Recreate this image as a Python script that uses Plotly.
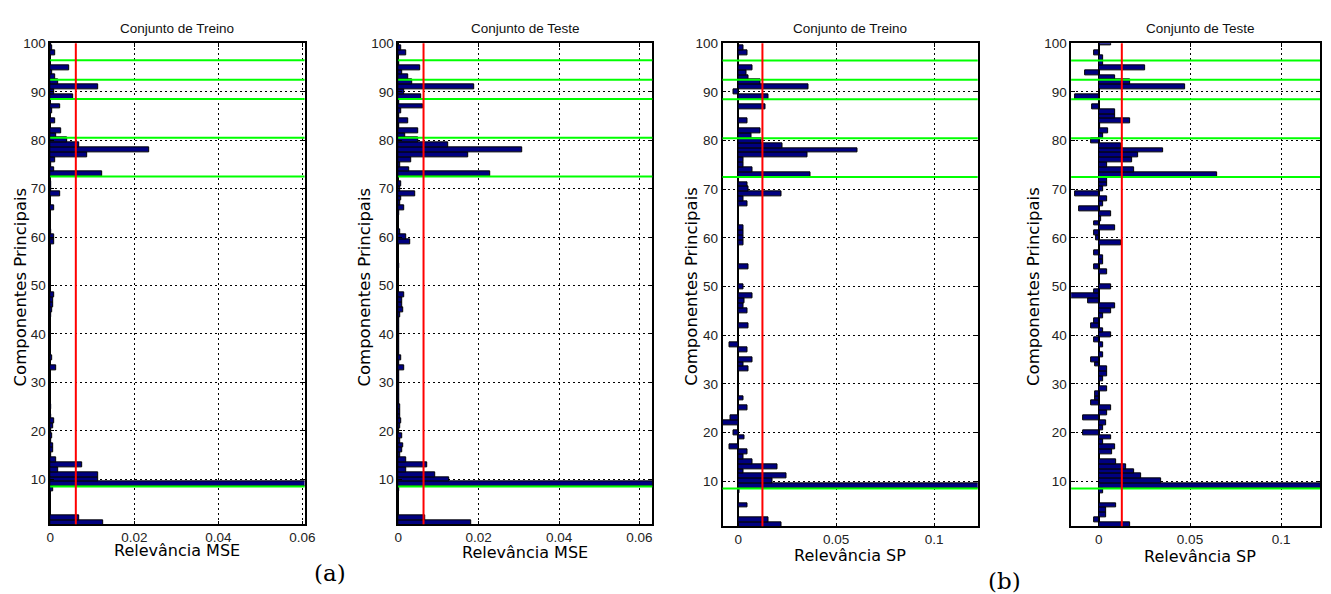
import plotly.graph_objects as go

# ---------------- data ----------------
components = list(range(1, 101))

# Relevance per principal component (index 1..100)
mse_treino = [
    0.0125, 0.0069, 0, 0, 0, 0, 0, 0.0006, 0.14, 0.0113,
    0.0113, 0.0018, 0.0075, 0.0014, 0.0003, 0.0008, 0.0008, 0.0002, 0.0005, 0.0002,
    0.0006, 0.0009, 0.0002, 0.0001, 0.0002, 0, 0, 0, 0, 0,
    0, 0, 0.0014, 0, 0.0005, 0, 0, 0, 0, 0,
    0, 0, 0, 0.0002, 0.0004, 0.0006, 0.0006, 0.0009, 0, 0,
    0, 0, 0, 0, 0, 0, 0, 0, 0.0010, 0.0009,
    0.0003, 0, 0, 0, 0, 0.0009, 0, 0, 0.0024, 0.0003,
    0.0003, 0, 0.0123, 0.0009, 0.0003, 0.0011, 0.0089, 0.0235, 0.0068, 0.0040,
    0.0015, 0.0027, 0, 0.0012, 0, 0.0004, 0.0024, 0, 0.0054, 0.0009,
    0.0115, 0.0018, 0.0013, 0.0004, 0.0044, 0, 0, 0.0013, 0.0004, 0.0003,
]

mse_teste = [
    0.0181, 0.0068, 0, 0, 0, 0, 0, 0.0003, 0.14, 0.0127,
    0.0091, 0.0021, 0.0072, 0.0020, 0.0006, 0.0010, 0.0013, 0.0004, 0.0010, 0.0003,
    0.0005, 0.0008, 0.0006, 0.0004, 0.0005, 0.0002, 0.0002, 0.0002, 0.0002, 0.0002,
    0.0002, 0.0002, 0.0015, 0.0003, 0.0007, 0.0002, 0.0002, 0.0002, 0.0002, 0.0002,
    0.0003, 0.0003, 0.0003, 0.0004, 0.0013, 0.0010, 0.0009, 0.0014, 0, 0,
    0, 0, 0, 0.0003, 0, 0, 0, 0, 0.0031, 0.0021,
    0.0005, 0, 0, 0, 0.0003, 0.0015, 0.0005, 0.0008, 0.0042, 0.0006,
    0.0008, 0, 0.0229, 0.0027, 0.0005, 0.0033, 0.0175, 0.0309, 0.0124, 0.0050,
    0.0017, 0.0050, 0.0003, 0.0025, 0.0003, 0.0007, 0.0061, 0.0002, 0.0058, 0.0016,
    0.0188, 0.0035, 0.0025, 0.0009, 0.0054, 0.0003, 0, 0.0020, 0.0008, 0,
]

sp_treino = [
    0.0219, 0.0155, 0, 0, 0.0045, 0, 0, 0.0007, 0.14, 0.0175,
    0.0244, 0.0025, 0.0202, 0.0071, 0.0025, 0.0045, -0.0044, 0, 0.0029, -0.0024,
    0, -0.0090, -0.0042, 0, 0.0045, 0, 0.0025, 0, 0, 0,
    0, 0, 0.0050, 0.0025, 0.0071, 0, 0.0045, -0.0044, 0, 0,
    0, 0.0050, 0, 0, 0.0045, 0.0025, 0.0029, 0.0071, 0, 0.0025,
    0, 0, 0, 0.0050, 0, 0, 0, 0, 0.0025, 0.0025,
    0.0025, 0.0025, 0, 0, 0, 0, 0.0045, 0.0025, 0.0222, 0.0050,
    0.0045, 0, 0.0369, 0.0071, 0.0025, 0.0025, 0.0354, 0.0610, 0.0226, 0.0118,
    0.0067, 0.0113, 0, 0.0049, 0, 0, 0.0138, 0, 0.0155, -0.0024,
    0.0357, 0.0113, 0.0050, 0.0042, 0.0071, 0, 0, 0.0045, 0.0025, 0,
]

sp_teste = [
    0.0170, -0.0025, 0.0042, 0.0042, 0.0094, 0, 0, 0.0023, 0.14, 0.0341,
    0.0233, 0.0191, 0.0152, 0.0097, 0, 0.0074, 0.0088, 0.0023, 0.0069, -0.0085,
    0.0023, 0.0042, -0.0088, 0.0045, 0.0065, -0.0043, -0.0023, -0.0018, 0.0047, 0,
    0.0023, 0.0043, 0.0047, -0.0022, -0.0043, 0.0023, 0, 0.0023, -0.0025, 0.0065,
    0.0023, -0.0045, -0.0025, 0.0023, 0.0065, 0.0088, -0.0061, -0.0155, -0.0025, 0.0065,
    0, 0, 0.0043, -0.0025, 0.0023, 0.0023, -0.0025, 0, 0.0121, -0.0014,
    -0.0025, 0.0088, -0.0025, 0.0010, 0.0065, -0.0106, 0.0023, 0.0043, -0.0130, 0.0023,
    0.0047, 0.0043, 0.0648, 0.0191, 0.0045, 0.0182, 0.0217, 0.0350, 0.0123, -0.0043,
    0.0023, 0.0051, 0.0005, 0.0173, 0.0087, 0.0087, -0.0038, 0, -0.0130, 0.0003,
    0.0471, 0.0170, 0.0087, -0.0076, 0.0255, 0.0023, 0.0023, -0.0025, 0, 0.0065,
]

thresholds = [0.0061, 0.0063, 0.0123, 0.0126]
cut_lines = [8.5, 72.5, 80.5, 88.5, 92.5, 96.5]

titles = ["Conjunto de Treino", "Conjunto de Teste", "Conjunto de Treino", "Conjunto de Teste"]
xlabels = ["Relevância MSE", "Relevância MSE", "Relevância SP", "Relevância SP"]
ylabel = "Componentes Principais"
x_ranges = [[0, 0.0605], [0, 0.0632], [-0.0081, 0.1223], [-0.0152, 0.1213]]
x_tickvals = [[0, 0.02, 0.04, 0.06], [0, 0.02, 0.04, 0.06], [0, 0.05, 0.1], [0, 0.05, 0.1]]
x_ticktext = [["0", "0.02", "0.04", "0.06"], ["0", "0.02", "0.04", "0.06"],
              ["0", "0.05", "0.1"], ["0", "0.05", "0.1"]]
y_range = [0.7, 100]
y_tickvals = [10, 20, 30, 40, 50, 60, 70, 80, 90, 100]
panel_labels = ["(a)", "(b)"]

series = [mse_treino, mse_teste, sp_treino, sp_teste]

# ---------------- layout geometry (pixels) ----------------
W, H = 1331, 594
x_dom_px = [(46.7, 304.0), (398.7, 655.7), (726.7, 984.8), (1079.3, 1331.0)]
y_top_px = 36.8
y_bot_px = [523.5, 523.5, 525.5, 525.5]
title_y_px = 22
xlabel_y_px = [549.5, 551.5, 555.5, 556.5]
ylabel_x_px = [17, 365, 695, 1041]
panel_label_pos = [(330, 573), (1012, 581)]

def px(x):
    return x / W

def py(y):
    return 1 - y / H

fig = go.Figure()
layout = dict(
    width=W, height=H, margin=dict(l=0, r=0, t=0, b=0),
    paper_bgcolor="white", plot_bgcolor="white",
    showlegend=False, bargap=0,
    font=dict(family="Liberation Sans, Arial, sans-serif", size=13, color="#222"),
)
shapes = []
annotations = []

for i in range(4):
    n = "" if i == 0 else str(i + 1)
    xa, ya = "x" + n, "y" + n
    fig.add_trace(go.Bar(
        x=series[i], y=components, orientation="h", width=1,
        marker=dict(color="#000080", line=dict(color="black", width=1)),
        xaxis=xa, yaxis=ya, hoverinfo="x+y",
    ))
    common = dict(
        showline=True, linecolor="black", linewidth=1.5, mirror="ticks",
        ticks="inside", ticklen=4, tickcolor="black", tickwidth=1,
        showgrid=True, gridcolor="black", gridwidth=1, griddash="2px,3px",
        tickfont=dict(family="Liberation Sans, Arial, sans-serif", size=13.5, color="#222"),
    )
    layout["xaxis" + n] = dict(
        common, domain=[px(x_dom_px[i][0]), px(x_dom_px[i][1])], anchor=ya,
        range=x_ranges[i], tickvals=x_tickvals[i], ticktext=x_ticktext[i],
        zeroline=True, zerolinecolor="black", zerolinewidth=1.5,
    )
    layout["yaxis" + n] = dict(
        common, domain=[py(y_bot_px[i]), py(y_top_px)], anchor=xa,
        range=y_range, tickvals=y_tickvals, zeroline=False,
    )
    for c in cut_lines:
        shapes.append(dict(type="line", xref=xa + " domain", yref=ya,
                           x0=0, x1=1, y0=c, y1=c,
                           line=dict(color="#00ff00", width=2)))
    shapes.append(dict(type="line", xref=xa, yref=ya + " domain",
                       x0=thresholds[i], x1=thresholds[i], y0=0, y1=1,
                       line=dict(color="red", width=2)))
    cx = (x_dom_px[i][0] + x_dom_px[i][1]) / 2
    if i == 3:
        cx = 1210
    annotations.append(dict(
        text=titles[i], x=px(cx), y=py(title_y_px), xref="paper", yref="paper",
        showarrow=False, xanchor="center", yanchor="middle",
        font=dict(family="Liberation Sans, Arial, sans-serif", size=13.5, color="#111"),
    ))
    annotations.append(dict(
        text=xlabels[i], x=px(cx), y=py(xlabel_y_px[i]), xref="paper", yref="paper",
        showarrow=False, xanchor="center", yanchor="middle",
        font=dict(family="DejaVu Sans, sans-serif", size=16, color="black"),
    ))
    annotations.append(dict(
        text=ylabel, x=px(ylabel_x_px[i]), y=py(283), xref="paper", yref="paper",
        showarrow=False, xanchor="center", yanchor="middle", textangle=-90,
        font=dict(family="DejaVu Sans, sans-serif", size=16.5, color="black"),
    ))

for lbl, (lx, ly) in zip(panel_labels, panel_label_pos):
    annotations.append(dict(
        text=lbl, x=px(lx), y=py(ly), xref="paper", yref="paper",
        showarrow=False, xanchor="center", yanchor="middle",
        font=dict(family="DejaVu Serif, serif", size=23, color="black"),
    ))

layout["shapes"] = shapes
layout["annotations"] = annotations
fig.update_layout(**layout)

fig.write_html(
    "out.html",
    config={"displayModeBar": False},
    post_script="document.body.style.margin='0';document.body.style.overflow='hidden';",
)
